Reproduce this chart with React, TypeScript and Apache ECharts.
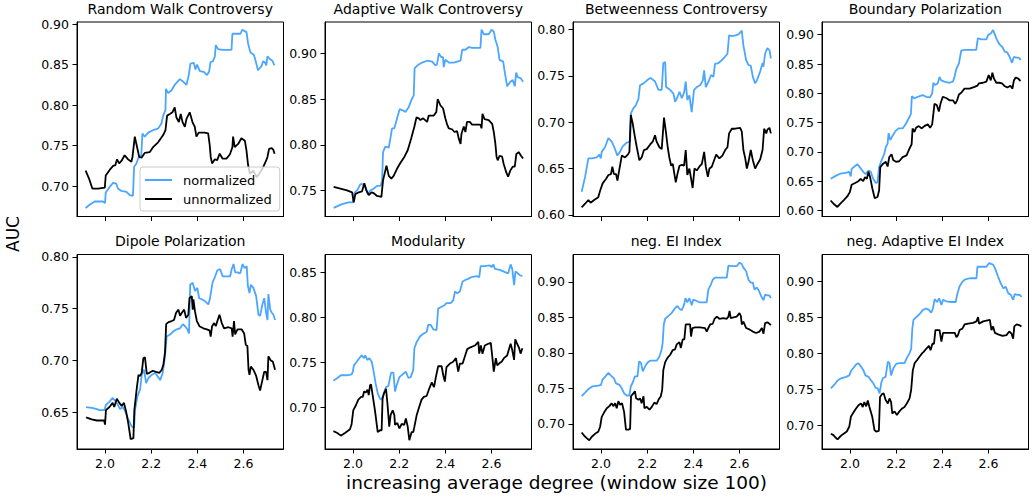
import React, { useEffect, useRef } from "react";
import * as echarts from "echarts";

const FONT = "DejaVu Sans";
const BLUE = "#4ba6ff";
const BLACK = "#000000";

const titles = [
  "Random Walk Controversy", "Adaptive Walk Controversy", "Betweenness Controversy", "Boundary Polarization",
  "Dipole Polarization", "Modularity", "neg. EI Index", "neg. Adaptive EI Index",
];
const seriesNames = ["normalized", "unnormalized"];
const xTicks = [2.0, 2.2, 2.4, 2.6];

const yTicksRWC = [0.7, 0.75, 0.8, 0.85, 0.9];
const yTicksAWC = [0.75, 0.8, 0.85, 0.9];
const yTicksBC = [0.6, 0.65, 0.7, 0.75, 0.8];
const yTicksBP = [0.6, 0.65, 0.7, 0.75, 0.8, 0.85, 0.9];
const yTicksDP = [0.65, 0.7, 0.75, 0.8];
const yTicksMod = [0.7, 0.75, 0.8, 0.85];
const yTicksEI = [0.7, 0.75, 0.8, 0.85, 0.9];
const yTicksAEI = [0.7, 0.75, 0.8, 0.85, 0.9];

const rwcNorm = [[1.916,0.673],[1.933,0.677],[1.955,0.681],[1.991,0.681],[2.0,0.679],[2.003,0.692],[2.02,0.699],[2.035,0.704],[2.049,0.703],[2.056,0.697],[2.071,0.694],[2.093,0.693],[2.107,0.689],[2.121,0.688],[2.126,0.724],[2.136,0.728],[2.145,0.735],[2.157,0.738],[2.162,0.765],[2.172,0.761],[2.187,0.766],[2.208,0.769],[2.23,0.771],[2.244,0.777],[2.252,0.787],[2.262,0.794],[2.264,0.82],[2.273,0.815],[2.288,0.818],[2.302,0.825],[2.324,0.832],[2.338,0.829],[2.353,0.825],[2.363,0.837],[2.37,0.851],[2.385,0.852],[2.392,0.844],[2.399,0.85],[2.411,0.842],[2.428,0.841],[2.442,0.837],[2.451,0.841],[2.457,0.853],[2.468,0.854],[2.476,0.86],[2.48,0.874],[2.49,0.869],[2.509,0.868],[2.548,0.868],[2.552,0.888],[2.569,0.888],[2.587,0.888],[2.595,0.893],[2.613,0.89],[2.62,0.876],[2.63,0.865],[2.645,0.862],[2.653,0.854],[2.663,0.843],[2.678,0.848],[2.685,0.854],[2.692,0.853],[2.699,0.849],[2.704,0.86],[2.717,0.856],[2.725,0.855],[2.734,0.849]];
const rwcUnnorm = [[1.916,0.719],[1.931,0.709],[1.945,0.697],[1.97,0.697],[1.999,0.698],[2.003,0.713],[2.02,0.72],[2.035,0.725],[2.045,0.726],[2.052,0.733],[2.061,0.728],[2.071,0.731],[2.085,0.738],[2.1,0.733],[2.114,0.73],[2.119,0.736],[2.129,0.761],[2.139,0.748],[2.148,0.736],[2.158,0.735],[2.172,0.741],[2.194,0.742],[2.208,0.748],[2.23,0.754],[2.252,0.763],[2.262,0.769],[2.269,0.787],[2.281,0.789],[2.292,0.791],[2.302,0.797],[2.309,0.785],[2.32,0.779],[2.328,0.789],[2.336,0.779],[2.346,0.773],[2.353,0.783],[2.367,0.791],[2.379,0.779],[2.389,0.773],[2.396,0.761],[2.406,0.766],[2.418,0.766],[2.432,0.766],[2.447,0.765],[2.454,0.75],[2.458,0.736],[2.464,0.728],[2.476,0.733],[2.486,0.732],[2.497,0.74],[2.509,0.734],[2.526,0.734],[2.541,0.739],[2.552,0.748],[2.555,0.761],[2.562,0.748],[2.577,0.752],[2.591,0.759],[2.606,0.756],[2.613,0.744],[2.62,0.726],[2.628,0.715],[2.642,0.719],[2.657,0.711],[2.668,0.715],[2.685,0.723],[2.699,0.732],[2.704,0.736],[2.711,0.746],[2.722,0.747],[2.729,0.745],[2.735,0.74]];

const awcNorm = [[1.916,0.731],[1.952,0.735],[1.981,0.737],[2.0,0.737],[2.006,0.747],[2.02,0.751],[2.032,0.757],[2.043,0.757],[2.053,0.754],[2.064,0.746],[2.075,0.75],[2.09,0.752],[2.104,0.755],[2.119,0.755],[2.126,0.761],[2.13,0.792],[2.14,0.798],[2.155,0.797],[2.162,0.807],[2.169,0.818],[2.179,0.818],[2.191,0.829],[2.202,0.839],[2.213,0.838],[2.227,0.836],[2.241,0.841],[2.253,0.849],[2.263,0.854],[2.267,0.884],[2.28,0.887],[2.299,0.89],[2.321,0.892],[2.343,0.891],[2.357,0.887],[2.364,0.888],[2.372,0.9],[2.382,0.896],[2.39,0.896],[2.393,0.885],[2.4,0.893],[2.415,0.89],[2.437,0.89],[2.466,0.892],[2.473,0.904],[2.487,0.904],[2.502,0.907],[2.516,0.906],[2.552,0.906],[2.557,0.926],[2.567,0.921],[2.588,0.921],[2.6,0.926],[2.61,0.924],[2.617,0.915],[2.627,0.907],[2.635,0.893],[2.651,0.891],[2.656,0.882],[2.668,0.864],[2.682,0.869],[2.692,0.871],[2.701,0.864],[2.707,0.879],[2.714,0.874],[2.726,0.873],[2.737,0.869]];
const awcUnnorm = [[1.916,0.754],[1.945,0.752],[1.974,0.75],[1.996,0.748],[2.003,0.737],[2.01,0.746],[2.025,0.748],[2.039,0.749],[2.049,0.758],[2.058,0.75],[2.068,0.745],[2.08,0.748],[2.09,0.747],[2.104,0.744],[2.123,0.743],[2.13,0.761],[2.145,0.777],[2.155,0.766],[2.166,0.763],[2.176,0.766],[2.191,0.774],[2.205,0.78],[2.223,0.787],[2.237,0.794],[2.252,0.807],[2.266,0.82],[2.275,0.83],[2.285,0.829],[2.292,0.827],[2.304,0.829],[2.321,0.825],[2.328,0.832],[2.35,0.832],[2.361,0.836],[2.367,0.85],[2.379,0.843],[2.39,0.84],[2.4,0.829],[2.408,0.822],[2.415,0.818],[2.429,0.817],[2.44,0.814],[2.451,0.815],[2.458,0.807],[2.466,0.801],[2.47,0.812],[2.48,0.82],[2.487,0.814],[2.494,0.825],[2.506,0.825],[2.516,0.822],[2.552,0.822],[2.557,0.818],[2.561,0.834],[2.57,0.828],[2.588,0.827],[2.603,0.823],[2.61,0.814],[2.617,0.801],[2.622,0.787],[2.627,0.783],[2.635,0.788],[2.646,0.787],[2.653,0.779],[2.664,0.77],[2.672,0.765],[2.682,0.772],[2.692,0.776],[2.701,0.776],[2.708,0.79],[2.718,0.792],[2.728,0.788],[2.737,0.785]];

const bcNorm = [[1.916,0.625],[1.931,0.641],[1.945,0.661],[1.96,0.661],[1.981,0.662],[1.993,0.665],[1.999,0.661],[2.003,0.668],[2.017,0.673],[2.032,0.683],[2.046,0.679],[2.056,0.674],[2.071,0.664],[2.082,0.668],[2.094,0.674],[2.111,0.678],[2.126,0.679],[2.13,0.71],[2.14,0.715],[2.152,0.719],[2.162,0.725],[2.169,0.74],[2.184,0.742],[2.198,0.745],[2.215,0.748],[2.234,0.744],[2.249,0.735],[2.263,0.735],[2.27,0.764],[2.278,0.765],[2.282,0.738],[2.299,0.735],[2.314,0.731],[2.321,0.722],[2.331,0.727],[2.34,0.733],[2.35,0.726],[2.36,0.732],[2.367,0.744],[2.374,0.724],[2.383,0.729],[2.393,0.711],[2.403,0.735],[2.415,0.738],[2.429,0.74],[2.441,0.745],[2.447,0.756],[2.454,0.738],[2.466,0.744],[2.477,0.751],[2.487,0.749],[2.494,0.763],[2.509,0.764],[2.523,0.767],[2.538,0.771],[2.548,0.774],[2.555,0.794],[2.567,0.793],[2.588,0.794],[2.6,0.796],[2.61,0.799],[2.617,0.783],[2.629,0.767],[2.639,0.762],[2.649,0.761],[2.658,0.749],[2.668,0.742],[2.675,0.745],[2.69,0.755],[2.7,0.764],[2.704,0.76],[2.711,0.774],[2.721,0.78],[2.73,0.778],[2.736,0.769]];
const bcUnnorm = [[1.916,0.608],[1.931,0.612],[1.945,0.616],[1.955,0.613],[1.97,0.616],[1.988,0.619],[1.996,0.626],[2.007,0.634],[2.022,0.639],[2.032,0.643],[2.043,0.644],[2.049,0.652],[2.056,0.644],[2.065,0.644],[2.071,0.637],[2.08,0.65],[2.09,0.664],[2.104,0.662],[2.116,0.665],[2.123,0.668],[2.129,0.708],[2.137,0.699],[2.147,0.684],[2.155,0.673],[2.166,0.659],[2.176,0.662],[2.186,0.67],[2.198,0.671],[2.213,0.676],[2.224,0.679],[2.234,0.686],[2.241,0.679],[2.253,0.673],[2.263,0.671],[2.273,0.705],[2.282,0.688],[2.289,0.673],[2.296,0.662],[2.304,0.653],[2.311,0.655],[2.318,0.644],[2.324,0.635],[2.331,0.644],[2.34,0.653],[2.35,0.654],[2.36,0.653],[2.367,0.67],[2.374,0.643],[2.383,0.65],[2.393,0.635],[2.397,0.629],[2.405,0.65],[2.415,0.648],[2.426,0.652],[2.437,0.655],[2.447,0.668],[2.454,0.652],[2.463,0.641],[2.47,0.65],[2.48,0.652],[2.49,0.659],[2.499,0.665],[2.513,0.661],[2.526,0.664],[2.538,0.67],[2.548,0.673],[2.555,0.688],[2.567,0.693],[2.581,0.693],[2.603,0.694],[2.61,0.69],[2.617,0.67],[2.625,0.661],[2.632,0.65],[2.639,0.657],[2.649,0.67],[2.658,0.659],[2.668,0.65],[2.678,0.655],[2.69,0.66],[2.7,0.67],[2.707,0.693],[2.716,0.688],[2.721,0.692],[2.73,0.694],[2.736,0.688]];

const bpNorm = [[1.916,0.654],[1.938,0.659],[1.959,0.663],[1.981,0.664],[1.996,0.666],[2.003,0.658],[2.007,0.671],[2.022,0.676],[2.032,0.679],[2.042,0.674],[2.057,0.666],[2.068,0.662],[2.08,0.668],[2.09,0.666],[2.1,0.654],[2.112,0.647],[2.119,0.648],[2.126,0.674],[2.138,0.687],[2.148,0.696],[2.155,0.708],[2.163,0.714],[2.167,0.732],[2.174,0.72],[2.184,0.727],[2.196,0.735],[2.21,0.74],[2.228,0.74],[2.242,0.748],[2.254,0.757],[2.264,0.765],[2.268,0.795],[2.279,0.791],[2.293,0.794],[2.315,0.797],[2.329,0.794],[2.347,0.793],[2.356,0.8],[2.361,0.818],[2.37,0.814],[2.38,0.817],[2.388,0.828],[2.395,0.822],[2.409,0.82],[2.431,0.818],[2.446,0.82],[2.453,0.828],[2.46,0.841],[2.472,0.851],[2.482,0.873],[2.496,0.874],[2.518,0.874],[2.547,0.874],[2.554,0.894],[2.569,0.892],[2.591,0.892],[2.598,0.899],[2.612,0.903],[2.62,0.908],[2.627,0.901],[2.637,0.891],[2.649,0.883],[2.66,0.879],[2.671,0.871],[2.681,0.87],[2.692,0.862],[2.702,0.852],[2.71,0.862],[2.721,0.861],[2.731,0.861],[2.74,0.857]];
const bpUnnorm = [[1.916,0.617],[1.93,0.611],[1.945,0.606],[1.959,0.612],[1.974,0.618],[1.988,0.624],[1.999,0.631],[2.007,0.644],[2.022,0.647],[2.036,0.65],[2.046,0.654],[2.057,0.65],[2.065,0.657],[2.073,0.654],[2.08,0.666],[2.087,0.657],[2.097,0.637],[2.107,0.621],[2.119,0.623],[2.126,0.634],[2.131,0.674],[2.141,0.679],[2.155,0.683],[2.163,0.675],[2.17,0.691],[2.18,0.696],[2.187,0.686],[2.199,0.683],[2.213,0.684],[2.228,0.691],[2.245,0.694],[2.257,0.705],[2.267,0.713],[2.271,0.74],[2.279,0.734],[2.286,0.741],[2.298,0.744],[2.311,0.74],[2.322,0.744],[2.337,0.747],[2.347,0.741],[2.356,0.747],[2.366,0.782],[2.376,0.78],[2.385,0.769],[2.392,0.782],[2.402,0.794],[2.417,0.792],[2.431,0.788],[2.446,0.788],[2.456,0.782],[2.464,0.788],[2.472,0.798],[2.482,0.801],[2.496,0.808],[2.518,0.808],[2.54,0.811],[2.552,0.813],[2.559,0.817],[2.576,0.818],[2.591,0.82],[2.601,0.831],[2.61,0.822],[2.617,0.835],[2.624,0.825],[2.634,0.818],[2.646,0.818],[2.659,0.817],[2.671,0.812],[2.682,0.81],[2.695,0.813],[2.704,0.808],[2.71,0.822],[2.718,0.827],[2.729,0.825],[2.739,0.821]];

const dpNorm = [[1.918,0.655],[1.949,0.654],[1.978,0.652],[1.997,0.652],[2.004,0.657],[2.019,0.66],[2.033,0.664],[2.043,0.661],[2.051,0.659],[2.065,0.653],[2.077,0.655],[2.087,0.651],[2.101,0.643],[2.116,0.636],[2.126,0.635],[2.13,0.652],[2.14,0.665],[2.152,0.672],[2.159,0.686],[2.169,0.691],[2.178,0.678],[2.188,0.683],[2.202,0.686],[2.217,0.688],[2.227,0.685],[2.239,0.681],[2.25,0.688],[2.26,0.704],[2.267,0.723],[2.282,0.725],[2.296,0.728],[2.311,0.73],[2.325,0.731],[2.337,0.735],[2.347,0.733],[2.357,0.73],[2.364,0.726],[2.369,0.773],[2.38,0.775],[2.39,0.767],[2.4,0.77],[2.408,0.76],[2.419,0.759],[2.434,0.757],[2.448,0.754],[2.455,0.76],[2.466,0.775],[2.477,0.781],[2.487,0.787],[2.499,0.788],[2.51,0.781],[2.528,0.781],[2.542,0.781],[2.549,0.788],[2.557,0.793],[2.564,0.785],[2.574,0.785],[2.586,0.784],[2.596,0.793],[2.605,0.789],[2.614,0.791],[2.619,0.772],[2.626,0.765],[2.632,0.773],[2.643,0.77],[2.655,0.762],[2.665,0.744],[2.672,0.743],[2.682,0.754],[2.69,0.76],[2.698,0.746],[2.704,0.739],[2.708,0.764],[2.716,0.749],[2.723,0.746],[2.73,0.744],[2.737,0.739]];
const dpUnnorm = [[1.918,0.645],[1.942,0.643],[1.964,0.642],[1.996,0.642],[2.0,0.638],[2.004,0.652],[2.019,0.655],[2.033,0.659],[2.04,0.655],[2.051,0.663],[2.062,0.659],[2.072,0.656],[2.082,0.659],[2.091,0.651],[2.101,0.639],[2.111,0.624],[2.123,0.625],[2.127,0.652],[2.137,0.672],[2.145,0.686],[2.152,0.685],[2.159,0.688],[2.166,0.702],[2.173,0.703],[2.181,0.687],[2.192,0.688],[2.207,0.69],[2.221,0.689],[2.236,0.688],[2.246,0.691],[2.253,0.696],[2.26,0.708],[2.265,0.735],[2.275,0.737],[2.289,0.738],[2.299,0.739],[2.308,0.746],[2.318,0.749],[2.325,0.743],[2.333,0.746],[2.343,0.749],[2.351,0.741],[2.361,0.744],[2.366,0.76],[2.376,0.762],[2.38,0.749],[2.383,0.759],[2.39,0.747],[2.398,0.738],[2.409,0.733],[2.426,0.731],[2.441,0.73],[2.453,0.729],[2.458,0.723],[2.464,0.733],[2.473,0.736],[2.48,0.733],[2.487,0.738],[2.496,0.744],[2.506,0.736],[2.516,0.731],[2.535,0.732],[2.549,0.731],[2.553,0.723],[2.559,0.738],[2.564,0.725],[2.574,0.73],[2.592,0.73],[2.603,0.726],[2.61,0.715],[2.617,0.714],[2.622,0.691],[2.626,0.686],[2.632,0.694],[2.643,0.691],[2.655,0.685],[2.665,0.676],[2.672,0.671],[2.682,0.681],[2.69,0.689],[2.698,0.689],[2.704,0.681],[2.708,0.704],[2.718,0.7],[2.727,0.699],[2.737,0.691]];

const modNorm = [[1.915,0.73],[1.932,0.733],[1.948,0.736],[1.973,0.736],[1.994,0.737],[1.999,0.74],[2.004,0.747],[2.016,0.751],[2.027,0.755],[2.038,0.758],[2.048,0.755],[2.053,0.758],[2.062,0.753],[2.071,0.755],[2.081,0.751],[2.088,0.742],[2.098,0.727],[2.107,0.716],[2.117,0.71],[2.124,0.709],[2.131,0.714],[2.143,0.723],[2.153,0.724],[2.165,0.739],[2.175,0.739],[2.182,0.718],[2.189,0.725],[2.201,0.734],[2.215,0.737],[2.229,0.74],[2.24,0.733],[2.25,0.734],[2.261,0.742],[2.266,0.766],[2.276,0.773],[2.29,0.779],[2.304,0.782],[2.319,0.784],[2.326,0.792],[2.336,0.792],[2.348,0.787],[2.362,0.786],[2.369,0.81],[2.384,0.812],[2.398,0.814],[2.405,0.816],[2.423,0.816],[2.434,0.819],[2.442,0.829],[2.452,0.827],[2.463,0.829],[2.475,0.84],[2.489,0.842],[2.499,0.843],[2.514,0.845],[2.535,0.846],[2.547,0.845],[2.553,0.857],[2.571,0.857],[2.593,0.858],[2.6,0.856],[2.608,0.859],[2.615,0.854],[2.636,0.853],[2.654,0.851],[2.672,0.849],[2.683,0.859],[2.69,0.854],[2.698,0.836],[2.704,0.851],[2.711,0.85],[2.723,0.847],[2.734,0.846]];
const modUnnorm = [[1.915,0.674],[1.932,0.672],[1.947,0.669],[1.965,0.672],[1.987,0.676],[1.994,0.682],[2.001,0.697],[2.013,0.703],[2.023,0.709],[2.035,0.712],[2.042,0.712],[2.048,0.718],[2.056,0.717],[2.063,0.72],[2.068,0.714],[2.074,0.725],[2.078,0.726],[2.085,0.714],[2.095,0.697],[2.107,0.673],[2.117,0.675],[2.124,0.675],[2.128,0.71],[2.134,0.716],[2.143,0.721],[2.149,0.705],[2.157,0.679],[2.163,0.692],[2.172,0.697],[2.179,0.692],[2.182,0.681],[2.192,0.683],[2.201,0.677],[2.211,0.682],[2.222,0.681],[2.229,0.688],[2.237,0.679],[2.244,0.664],[2.254,0.673],[2.261,0.673],[2.266,0.679],[2.276,0.692],[2.287,0.701],[2.297,0.709],[2.307,0.712],[2.319,0.713],[2.33,0.721],[2.341,0.728],[2.351,0.723],[2.359,0.734],[2.369,0.746],[2.384,0.746],[2.391,0.736],[2.398,0.729],[2.405,0.745],[2.42,0.749],[2.434,0.751],[2.446,0.755],[2.456,0.74],[2.463,0.749],[2.475,0.749],[2.485,0.757],[2.495,0.765],[2.509,0.767],[2.528,0.769],[2.543,0.773],[2.547,0.76],[2.554,0.769],[2.561,0.76],[2.571,0.769],[2.586,0.771],[2.597,0.772],[2.603,0.758],[2.61,0.74],[2.619,0.755],[2.625,0.747],[2.633,0.749],[2.644,0.751],[2.654,0.755],[2.668,0.758],[2.677,0.766],[2.683,0.771],[2.69,0.764],[2.698,0.753],[2.703,0.776],[2.711,0.771],[2.72,0.766],[2.726,0.76],[2.734,0.766]];

const eiNorm = [[1.916,0.739],[1.931,0.744],[1.945,0.749],[1.964,0.753],[1.988,0.754],[2.0,0.755],[2.006,0.762],[2.022,0.768],[2.032,0.772],[2.043,0.768],[2.056,0.764],[2.065,0.757],[2.08,0.755],[2.09,0.75],[2.1,0.743],[2.111,0.74],[2.123,0.74],[2.129,0.753],[2.137,0.758],[2.147,0.767],[2.158,0.767],[2.165,0.788],[2.173,0.786],[2.181,0.774],[2.191,0.781],[2.201,0.786],[2.213,0.789],[2.227,0.789],[2.241,0.789],[2.253,0.795],[2.263,0.805],[2.267,0.814],[2.272,0.84],[2.278,0.848],[2.292,0.852],[2.306,0.856],[2.321,0.863],[2.331,0.866],[2.34,0.862],[2.35,0.86],[2.36,0.868],[2.366,0.877],[2.374,0.871],[2.383,0.877],[2.393,0.867],[2.4,0.875],[2.415,0.873],[2.429,0.871],[2.451,0.871],[2.458,0.871],[2.465,0.889],[2.476,0.896],[2.484,0.903],[2.494,0.906],[2.516,0.906],[2.545,0.906],[2.552,0.923],[2.567,0.922],[2.588,0.922],[2.6,0.927],[2.61,0.925],[2.617,0.92],[2.629,0.915],[2.639,0.903],[2.649,0.899],[2.658,0.899],[2.665,0.889],[2.675,0.892],[2.685,0.887],[2.694,0.88],[2.704,0.874],[2.711,0.882],[2.721,0.881],[2.73,0.881],[2.736,0.877]];
const eiUnnorm = [[1.916,0.688],[1.928,0.683],[1.938,0.68],[1.949,0.677],[1.96,0.682],[1.974,0.686],[1.988,0.689],[1.996,0.696],[2.003,0.71],[2.013,0.716],[2.025,0.722],[2.036,0.725],[2.046,0.729],[2.053,0.725],[2.061,0.729],[2.068,0.722],[2.075,0.732],[2.082,0.727],[2.091,0.729],[2.1,0.717],[2.108,0.692],[2.119,0.692],[2.126,0.693],[2.13,0.739],[2.14,0.743],[2.147,0.746],[2.152,0.736],[2.162,0.734],[2.169,0.736],[2.176,0.729],[2.184,0.739],[2.188,0.722],[2.198,0.724],[2.21,0.72],[2.22,0.724],[2.231,0.73],[2.241,0.728],[2.249,0.734],[2.259,0.739],[2.265,0.748],[2.27,0.776],[2.278,0.787],[2.288,0.793],[2.299,0.797],[2.311,0.804],[2.321,0.805],[2.328,0.812],[2.34,0.815],[2.346,0.807],[2.354,0.819],[2.361,0.819],[2.367,0.84],[2.379,0.84],[2.386,0.84],[2.39,0.823],[2.396,0.835],[2.408,0.836],[2.429,0.836],[2.451,0.835],[2.458,0.83],[2.465,0.835],[2.473,0.84],[2.484,0.841],[2.492,0.848],[2.502,0.851],[2.513,0.848],[2.531,0.849],[2.545,0.848],[2.552,0.851],[2.557,0.859],[2.562,0.849],[2.574,0.85],[2.588,0.851],[2.6,0.856],[2.606,0.852],[2.61,0.84],[2.617,0.844],[2.629,0.835],[2.643,0.833],[2.658,0.83],[2.672,0.828],[2.687,0.83],[2.697,0.835],[2.704,0.827],[2.711,0.842],[2.721,0.843],[2.73,0.841],[2.736,0.839]];

const aeiNorm = [[1.917,0.751],[1.932,0.756],[1.946,0.762],[1.961,0.765],[1.983,0.767],[1.997,0.769],[2.004,0.775],[2.016,0.78],[2.026,0.784],[2.036,0.786],[2.048,0.781],[2.058,0.776],[2.067,0.769],[2.08,0.767],[2.091,0.762],[2.101,0.758],[2.11,0.752],[2.12,0.751],[2.128,0.744],[2.135,0.758],[2.142,0.765],[2.154,0.767],[2.164,0.788],[2.171,0.786],[2.178,0.769],[2.188,0.779],[2.2,0.785],[2.214,0.786],[2.236,0.786],[2.246,0.793],[2.258,0.8],[2.265,0.806],[2.27,0.834],[2.275,0.846],[2.287,0.85],[2.301,0.854],[2.316,0.86],[2.33,0.862],[2.342,0.86],[2.352,0.856],[2.359,0.862],[2.367,0.875],[2.377,0.871],[2.386,0.876],[2.396,0.867],[2.403,0.874],[2.417,0.872],[2.439,0.871],[2.458,0.871],[2.464,0.881],[2.475,0.893],[2.487,0.899],[2.497,0.902],[2.519,0.904],[2.548,0.904],[2.552,0.92],[2.57,0.92],[2.591,0.92],[2.603,0.925],[2.62,0.923],[2.628,0.918],[2.642,0.906],[2.652,0.898],[2.664,0.89],[2.675,0.892],[2.686,0.883],[2.697,0.881],[2.707,0.874],[2.714,0.882],[2.725,0.881],[2.736,0.881],[2.743,0.878]];
const aeiUnnorm = [[1.917,0.688],[1.928,0.686],[1.936,0.683],[1.946,0.68],[1.957,0.684],[1.968,0.687],[1.986,0.691],[1.997,0.698],[2.004,0.712],[2.014,0.717],[2.026,0.723],[2.038,0.728],[2.048,0.73],[2.055,0.725],[2.062,0.732],[2.07,0.726],[2.077,0.734],[2.084,0.725],[2.096,0.712],[2.106,0.693],[2.113,0.691],[2.125,0.692],[2.13,0.739],[2.139,0.743],[2.146,0.744],[2.154,0.735],[2.164,0.73],[2.171,0.737],[2.178,0.732],[2.183,0.716],[2.193,0.719],[2.203,0.714],[2.214,0.719],[2.226,0.723],[2.236,0.725],[2.246,0.73],[2.258,0.737],[2.265,0.749],[2.272,0.776],[2.28,0.786],[2.29,0.79],[2.301,0.795],[2.313,0.8],[2.32,0.802],[2.33,0.806],[2.342,0.81],[2.349,0.804],[2.357,0.813],[2.364,0.813],[2.37,0.832],[2.381,0.832],[2.388,0.832],[2.396,0.816],[2.403,0.828],[2.417,0.828],[2.439,0.828],[2.454,0.828],[2.461,0.822],[2.468,0.825],[2.475,0.832],[2.487,0.834],[2.497,0.84],[2.512,0.841],[2.533,0.842],[2.548,0.844],[2.555,0.85],[2.559,0.841],[2.577,0.844],[2.591,0.845],[2.606,0.846],[2.613,0.832],[2.62,0.837],[2.628,0.828],[2.642,0.826],[2.661,0.824],[2.678,0.825],[2.69,0.83],[2.7,0.827],[2.707,0.82],[2.712,0.837],[2.722,0.84],[2.733,0.839],[2.743,0.837]];

const normData = [rwcNorm, awcNorm, bcNorm, bpNorm, dpNorm, modNorm, eiNorm, aeiNorm];
const unnormData = [rwcUnnorm, awcUnnorm, bcUnnorm, bpUnnorm, dpUnnorm, modUnnorm, eiUnnorm, aeiUnnorm];
const yTicks = [yTicksRWC, yTicksAWC, yTicksBC, yTicksBP, yTicksDP, yTicksMod, yTicksEI, yTicksAEI];
const yMins = [0.6625, 0.7215, 0.5982, 0.5897, 0.6145, 0.6542, 0.6647, 0.6667];
const yMaxs = [0.9025, 0.9344, 0.8083, 0.9217, 0.8022, 0.870, 0.9385, 0.937];
const xMin = 1.8785;
const xMax = 2.7735;

const colLefts = [77, 325, 573, 822];
const rowTops = [22, 254.5];
const GW = 206.5;
const GH = 194.5;

export default function App() {
  const ref = useRef<HTMLDivElement>(null);
  useEffect(() => {
    const chart = echarts.init(ref.current!, null, { renderer: "svg" });
    const grids: any[] = [];
    const xAxes: any[] = [];
    const yAxes: any[] = [];
    const series: any[] = [];
    const titleList: any[] = [];
    for (let i = 0; i < 8; i++) {
      const r = Math.floor(i / 4);
      const c = i % 4;
      const left = colLefts[c];
      const top = rowTops[r];
      grids.push({ left, top, width: GW, height: GH, show: true, borderColor: "#000", borderWidth: 1, backgroundColor: "transparent", containLabel: false });
      xAxes.push({
        type: "value", gridIndex: i, min: xMin, max: xMax,
        axisLine: { show: true, onZero: false, lineStyle: { color: "#000", width: 1 } },
        axisTick: { show: true, inside: false, length: 4.5, lineStyle: { color: "#000", width: 1 }, customValues: xTicks },
        axisLabel: { show: r === 1, customValues: xTicks, margin: 8, color: "#000", fontFamily: FONT, fontSize: 12.5, formatter: (v: number) => v.toFixed(1) },
        splitLine: { show: false },
      });
      yAxes.push({
        type: "value", gridIndex: i, min: yMins[i], max: yMaxs[i],
        axisLine: { show: true, onZero: false, lineStyle: { color: "#000", width: 1 } },
        axisTick: { show: true, inside: false, length: 4.5, lineStyle: { color: "#000", width: 1 }, customValues: yTicks[i] },
        axisLabel: { show: true, customValues: yTicks[i], margin: 8, color: "#000", fontFamily: FONT, fontSize: 12.5, formatter: (v: number) => v.toFixed(2) },
        splitLine: { show: false },
      });
      series.push({
        name: seriesNames[0], type: "line", xAxisIndex: i, yAxisIndex: i, data: normData[i],
        symbol: "none", showSymbol: false, clip: true, z: 2,
        lineStyle: { color: BLUE, width: 1.8 }, itemStyle: { color: BLUE },
      });
      series.push({
        name: seriesNames[1], type: "line", xAxisIndex: i, yAxisIndex: i, data: unnormData[i],
        symbol: "none", showSymbol: false, clip: true, z: 3,
        lineStyle: { color: BLACK, width: 1.8 }, itemStyle: { color: BLACK },
      });
      titleList.push({
        text: titles[i], left: left + GW / 2, top: r === 0 ? 0 : 232.5, textAlign: "center", padding: 0,
        textStyle: { fontFamily: FONT, fontSize: 14, fontWeight: "normal", color: "#000", lineHeight: 17 },
      });
    }
    const graphics: any[] = [
      {
        type: "text", x: 556.5, y: 482,
        style: { text: "increasing average degree (window size 100)", fontFamily: FONT, fontSize: 18.5, fontWeight: "normal", fill: "#000", stroke: "none", lineWidth: 0, align: "center", verticalAlign: "middle", textAlign: "center", textVerticalAlign: "middle" },
      },
      {
        type: "text", x: 13, y: 234, rotation: Math.PI / 2,
        style: { text: "AUC", fontFamily: FONT, fontSize: 17, fontWeight: "normal", fill: "#000", stroke: "none", lineWidth: 0, align: "center", verticalAlign: "middle", textAlign: "center", textVerticalAlign: "middle" },
      },
    ];
    const option: any = {
      animation: false,
      backgroundColor: "#ffffff",
      textStyle: { fontFamily: FONT },
      title: titleList,
      grid: grids,
      xAxis: xAxes,
      yAxis: yAxes,
      series,
      legend: {
        show: true, orient: "vertical", left: 140, top: 167,
        data: seriesNames, icon: "rect", itemWidth: 27, itemHeight: 2, itemGap: 5,
        padding: [6, 8, 5, 5], selectedMode: false,
        backgroundColor: "rgba(255,255,255,0.8)", borderColor: "#cccccc", borderWidth: 1, borderRadius: 3,
        textStyle: { fontFamily: FONT, fontSize: 13, color: "#000", padding: [0, 0, 0, 6], lineHeight: 14 },
        z: 10,
      },
      graphic: graphics,
    };
    chart.setOption(option);
    return () => chart.dispose();
  }, []);
  return <div ref={ref} style={{ position: "fixed", left: 0, top: 0, width: 1034, height: 498 }} />;
}
